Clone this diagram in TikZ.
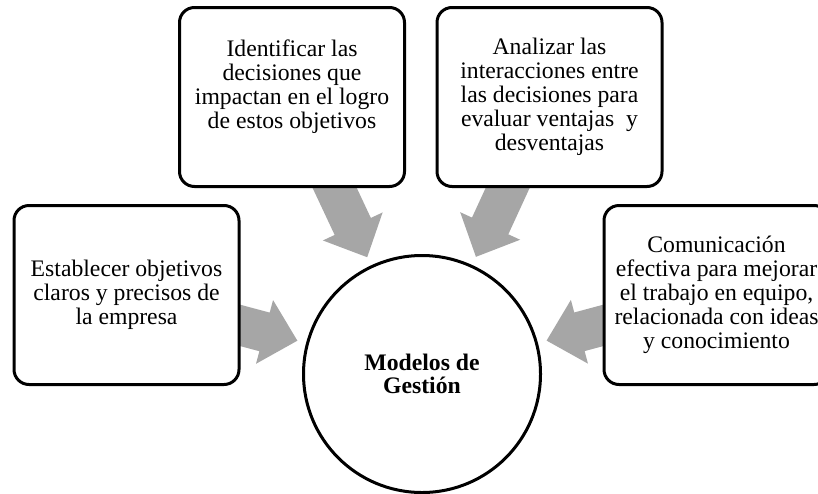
\documentclass[tikz,border=0pt]{standalone}
\usepackage{fontspec}
\setmainfont{Liberation Serif}
\usetikzlibrary{calc,backgrounds}
\definecolor{arrowgray}{RGB}{166,166,166}
\begin{document}
\begin{tikzpicture}[x=1pt,y=-1pt,
  box/.style={draw=black, line width=3pt, rounded corners=15pt, fill=white,
    minimum width=225pt, minimum height=179pt, inner sep=0pt, align=center,
    font=\fontsize{23.7}{24}\selectfont},
  hub/.style={circle, draw=black, line width=3pt, fill=white,
    minimum size=237pt, inner sep=0pt, align=center,
    font=\fontsize{23.7}{23.5}\selectfont\bfseries},
  blockarrow/.style={fill=arrowgray, draw=none}
]
\useasboundingbox (0,0) rectangle (818,493);
\clip (0,0) rectangle (818,493);

\node[box] (L) at (126.5,295) {Establecer objetivos\\claros y precisos de\\la empresa};
\node[box, text depth=26pt] (TL) at (292,97) {Identificar las\\decisiones que\\impactan en el logro\\de estos objetivos};
\node[box] (TR) at (549.5,97) {Analizar las\\interacciones entre\\las decisiones para\\evaluar ventajas\ \ y\\desventajas};
\node[box] (R) at (716.5,295) {Comunicación\\efectiva para mejorar\\el trabajo en equipo,\\relacionada con ideas\\y conocimiento};
\node[hub] (C) at (422,374) {Modelos de\\Gestión};

\begin{scope}[on background layer]
  \foreach \b in {L,TL,TR,R}{
    \coordinate (S) at (\b.center);
    \coordinate (T) at ($(C.center)!129pt!(\b.center)$);
    \coordinate (B) at ($(C.center)!163pt!(\b.center)$);
    \fill[blockarrow]
      ($(S)!20pt!90:(C.center)$) -- ($(B)!20pt!90:(C.center)$) --
      ($(B)!33pt!90:(C.center)$) -- (T) --
      ($(B)!33pt!-90:(C.center)$) -- ($(B)!20pt!-90:(C.center)$) --
      ($(S)!20pt!-90:(C.center)$) -- cycle;
  }
\end{scope}
\end{tikzpicture}
\end{document}
